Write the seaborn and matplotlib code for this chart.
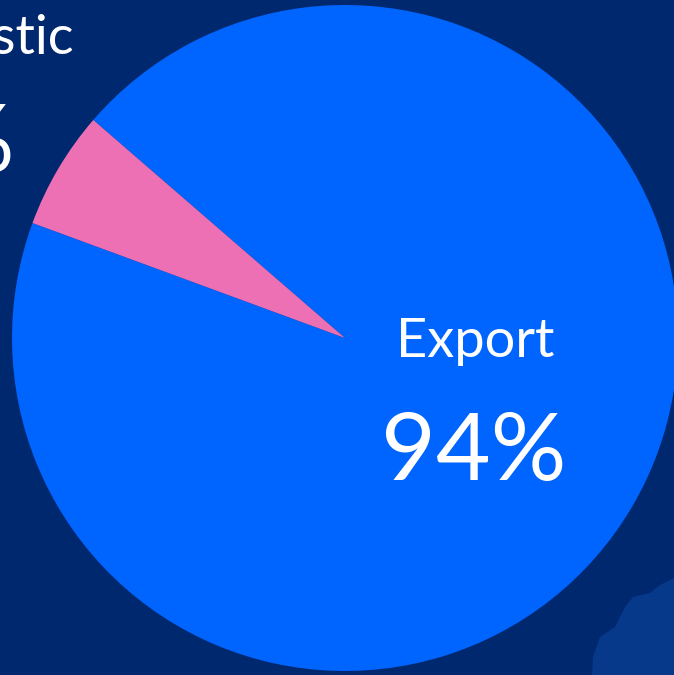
import seaborn as sns
import matplotlib.pyplot as plt
from matplotlib.patches import Polygon

# data
categories = ["Export", "Domestic"]
shares = [94.25, 5.75]
pct_labels = ["94%", "6%"]
colors = ["#0064ff", "#ee70b4"]

BG = "#00286f"
BLOB = "#07398a"

sns.set_theme(style="white")
plt.rcParams["font.family"] = ["Lato", "DejaVu Sans"]

fig = plt.figure(figsize=(6.74, 6.75), dpi=100, facecolor=BG)
ax = fig.add_axes([0, 0, 1, 1])
ax.set_facecolor(BG)

# decorative background shape, bottom-right corner (axes coords)
blob = [(592, 675), (593, 657), (600, 637), (615, 627), (625, 607), (633, 597),
        (650, 593), (660, 585), (674, 578), (674, 675)]
ax.add_patch(Polygon([(x / 674, 1 - y / 675) for x, y in blob], closed=True,
                     transform=ax.transAxes, facecolor=BLOB, edgecolor="none", zorder=0))

wedges, _ = ax.pie(shares, colors=colors, startangle=159.8, counterclock=True,
                   radius=1, wedgeprops={"linewidth": 0})
for w in wedges:
    w.set_zorder(2)

ax.set_xlim(-345 / 333, (674 - 345) / 333)
ax.set_ylim(-(675 - 338) / 333, 338 / 333)
ax.set_aspect("auto")
ax.axis("off")

# (x, y, ha)
label_pos = {"Export": (0.39, -0.012, "center"), "Domestic": (-0.815, 0.90, "right")}
pct_pos = {"Export": (0.387, -0.348, "center"), "Domestic": (-0.99, 0.58, "right")}
for cat, pct in zip(categories, pct_labels):
    x, y, ha = label_pos[cat]
    ax.text(x, y, cat, color="white", fontsize=39, ha=ha, va="center", zorder=3)
    x, y, ha = pct_pos[cat]
    ax.text(x, y, pct, color="white", fontsize=68, ha=ha, va="center", zorder=3)

fig.savefig("out.png", dpi=100, facecolor=BG)
